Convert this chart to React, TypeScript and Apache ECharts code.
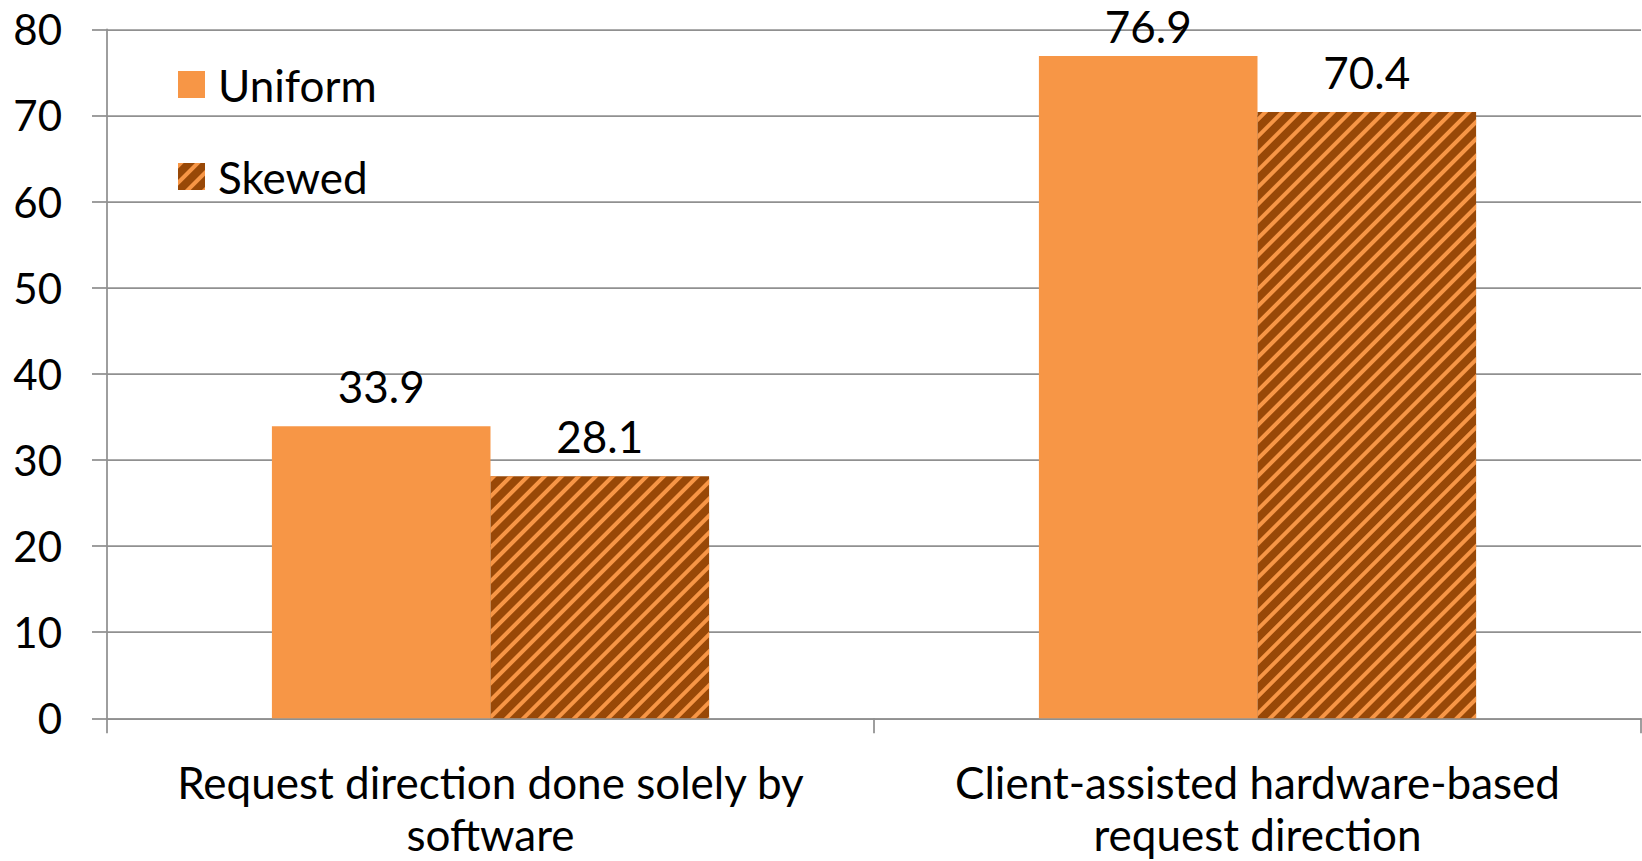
import React, { useEffect, useRef } from "react";
import * as echarts from "echarts";

const categories = [
  "Request direction done solely by\nsoftware",
  "Client-assisted hardware-based\nrequest direction",
];
const uniformValues = [33.9, 76.9];
const skewedValues = [28.1, 70.4];
const yTicks = { min: 0, max: 80, interval: 10 };

const ORANGE = "#F79646";
const BROWN = "#984807";
const GRID_GRAY = "#909090";
const FONT = "Lato, 'Open Sans', sans-serif";
const FONT_SIZE = 44;

export default function App() {
  const ref = useRef<HTMLDivElement>(null);

  useEffect(() => {
    if (!ref.current) return;
    const chart = echarts.init(ref.current, undefined, { renderer: "svg" });

    const label = {
      show: true,
      position: "top" as const,
      distance: 20,
      fontFamily: FONT,
      fontSize: FONT_SIZE,
      color: "#000",
      lineHeight: 40,
    };

    const lineStyle = { color: GRID_GRAY, width: 1.75 };

    chart.setOption({
      animation: false,
      backgroundColor: "#fff",
      grid: {
        left: 107,
        right: 1,
        top: 29.3,
        bottom: 142.7,
        containLabel: false,
        outerBoundsMode: "none",
      },
      legend: {
        orient: "vertical",
        left: 173,
        top: 57.5,
        itemWidth: 27,
        itemHeight: 27,
        itemGap: 48,
        icon: "rect",
        textStyle: {
          fontFamily: FONT,
          fontSize: FONT_SIZE,
          color: "#000",
          padding: [0, 0, 0, 8],
        },
        data: ["Uniform", "Skewed"],
      },
      xAxis: {
        type: "category",
        data: categories,
        axisLine: { show: true, lineStyle },
        axisTick: { show: true, length: 15, lineStyle },
        axisLabel: {
          fontFamily: FONT,
          fontSize: FONT_SIZE,
          color: "#000",
          lineHeight: 52,
          margin: 38,
          interval: 0,
        },
      },
      yAxis: {
        type: "value",
        min: yTicks.min,
        max: yTicks.max,
        interval: yTicks.interval,
        axisLine: { show: true, lineStyle },
        axisTick: { show: true, length: 15, lineStyle },
        splitLine: { show: true, lineStyle },
        axisLabel: {
          fontFamily: FONT,
          fontSize: 42,
          color: "#000",
          margin: 45,
        },
      },
      series: [
        {
          name: "Uniform",
          type: "bar",
          // the tall bar's label sits closer so it stays inside the chart
          data: uniformValues.map((v, i) =>
            i === 1 ? { value: v, label: { distance: 10 } } : v
          ),
          barGap: "0%",
          barCategoryGap: "43%",
          itemStyle: { color: ORANGE },
          label,
        },
        {
          name: "Skewed",
          type: "bar",
          data: skewedValues,
          barGap: "0%",
          barCategoryGap: "43%",
          itemStyle: {
            color: BROWN,
            decal: {
              symbol: "rect",
              symbolSize: 1,
              color: ORANGE,
              dashArrayX: [1, 0],
              dashArrayY: [4, 8],
              rotation: -Math.PI / 4,
            },
          },
          label,
        },
      ],
    });

    return () => chart.dispose();
  }, []);

  return (
    <div
      ref={ref}
      style={{ position: "absolute", left: 0, top: 0, width: 1642, height: 861 }}
    />
  );
}
